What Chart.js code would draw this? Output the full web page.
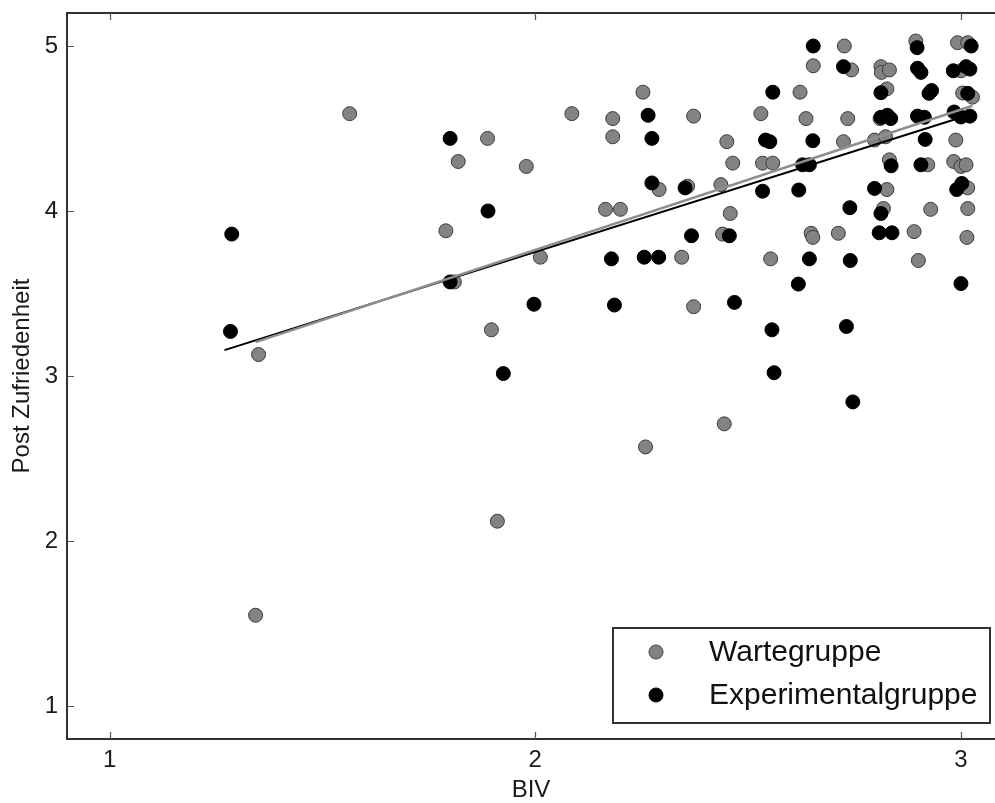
<!DOCTYPE html>
<html>
<head>
<meta charset="utf-8">
<title>BIV und Post Zufriedenheit</title>
<script src="https://cdn.jsdelivr.net/npm/chart.js@4.4.1/dist/chart.umd.min.js"></script>
<style>
  html, body { margin: 0; padding: 0; background: #ffffff; overflow: hidden; }
  #wrap { width: 995px; height: 803px; }
</style>
</head>
<body>
<div id="wrap"><canvas id="chart" width="995" height="803"></canvas></div>
<script>
// Wartegruppe: BIV (x) and Post Zufriedenheit (y)
const warteBIV = [
  1.343, 1.35, 1.564, 1.79, 1.81, 1.819, 1.888, 1.897, 1.911, 1.979,
  2.012, 2.086, 2.165, 2.182, 2.182, 2.20, 2.253, 2.259, 2.291, 2.344,
  2.358, 2.372, 2.372, 2.436, 2.44, 2.444, 2.45, 2.458, 2.464, 2.53,
  2.534, 2.553, 2.558, 2.622, 2.636, 2.648, 2.652, 2.653, 2.712, 2.724,
  2.726, 2.734, 2.743, 2.797, 2.81, 2.812, 2.813, 2.818, 2.823, 2.826,
  2.826, 2.832, 2.832, 2.89, 2.894, 2.90, 2.922, 2.929, 2.988, 2.983,
  2.992, 3.0, 3.0, 3.004, 3.012, 3.014, 3.016, 3.016, 3.016, 3.027
];
const warteZuf = [
  1.55, 3.13, 4.59, 3.88, 3.57, 4.30, 4.44, 3.28, 2.12, 4.27,
  3.72, 4.59, 4.01, 4.56, 4.45, 4.01, 4.72, 2.57, 4.13, 3.72,
  4.15, 4.575, 3.42, 4.16, 3.86, 2.71, 4.42, 3.985, 4.29, 4.59,
  4.29, 3.71, 4.29, 4.72, 4.56, 3.865, 3.84, 4.88, 3.865, 4.42,
  5.0, 4.56, 4.855, 4.43, 4.56, 4.875, 4.84, 4.015, 4.45, 4.74,
  4.13, 4.855, 4.31, 3.875, 5.03, 3.70, 4.28, 4.01, 4.43, 4.30,
  5.02, 4.85, 4.27, 4.715, 4.28, 3.84, 5.02, 4.14, 4.015, 4.69
];

// Experimentalgruppe: BIV (x) and Post Zufriedenheit (y)
const expBIV = [
  1.287, 1.284, 1.80, 1.80, 1.889, 1.925, 1.997, 2.179, 2.186, 2.256,
  2.265, 2.274, 2.274, 2.29, 2.352, 2.367, 2.456, 2.468, 2.534, 2.541,
  2.551, 2.556, 2.558, 2.561, 2.618, 2.619, 2.628, 2.644, 2.644, 2.652,
  2.653, 2.724, 2.731, 2.739, 2.74, 2.746, 2.797, 2.808, 2.812, 2.812,
  2.812, 2.827, 2.835, 2.836, 2.838, 2.897, 2.898, 2.906, 2.898, 2.914,
  2.906, 2.916, 2.925, 2.931, 2.982, 2.984, 2.99, 3.0, 3.0, 3.002,
  3.012, 3.016, 3.021, 3.021, 3.024
];
const expZuf = [
  3.86, 3.27, 4.44, 3.57, 4.00, 3.015, 3.435, 3.71, 3.43, 3.72,
  4.58, 4.44, 4.17, 3.72, 4.14, 3.85, 3.85, 3.446, 4.12, 4.43,
  4.42, 3.28, 4.72, 3.02, 3.557, 4.127, 4.28, 4.28, 3.71, 4.426,
  5.0, 4.875, 3.30, 4.02, 3.70, 2.843, 4.137, 3.868, 4.717, 4.568,
  3.985, 4.58, 4.56, 4.274, 3.868, 4.99, 4.865, 4.84, 4.575, 4.568,
  4.28, 4.434, 4.713, 4.73, 4.85, 4.60, 4.13, 3.56, 4.57, 4.167,
  4.875, 4.713, 4.86, 4.575, 5.0
];

// Regression lines (end points) for each group
const fitWarteBIV = [1.343, 3.027];
const fitWarteZuf = [3.205, 4.638];
const fitExpBIV = [1.27, 3.024];
const fitExpZuf = [3.157, 4.586];

// Axis ticks
const xTicks = [1, 2, 3];
const yTicks = [1, 2, 3, 4, 5];

const seriesNames = ['Wartegruppe', 'Experimentalgruppe'];
const axisTitles = { x: 'BIV', y: 'Post Zufriedenheit' };

const zip = (xs, ys) => xs.map((x, i) => ({ x: x, y: ys[i] }));

const GRAY = '#838383';
const GRAY_EDGE = '#3c3c3c';
const FRAME = '#333333';
const FONT = "'Liberation Sans', Arial, Helvetica, sans-serif";
const MARKER_R = 7;

// Box on left/top/bottom with inward tick marks
const framePlugin = {
  id: 'frame',
  beforeDatasetsDraw(chart) {
    const { ctx, chartArea: a, scales } = chart;
    ctx.save();
    ctx.strokeStyle = FRAME;
    ctx.lineWidth = 2;
    ctx.beginPath();
    ctx.moveTo(a.right + 2, a.top);
    ctx.lineTo(a.left, a.top);
    ctx.lineTo(a.left, a.bottom);
    ctx.lineTo(a.right + 2, a.bottom);
    ctx.stroke();
    ctx.lineWidth = 1.2;
    ctx.strokeStyle = '#555555';
    ctx.beginPath();
    xTicks.forEach(v => {
      const px = Math.round(scales.x.getPixelForValue(v)) + 0.5;
      ctx.moveTo(px, a.bottom);
      ctx.lineTo(px, a.bottom - 7);
      ctx.moveTo(px, a.top);
      ctx.lineTo(px, a.top + 7);
    });
    yTicks.forEach(v => {
      const py = Math.round(scales.y.getPixelForValue(v)) + 0.5;
      ctx.moveTo(a.left, py);
      ctx.lineTo(a.left + 7, py);
    });
    ctx.stroke();
    ctx.restore();
  }
};

// Boxed legend in the lower right corner of the plot
const legendPlugin = {
  id: 'boxLegend',
  afterDatasetsDraw(chart) {
    const { ctx, chartArea: a } = chart;
    const x0 = a.right - 382, y0 = a.bottom - 111, w = 377, h = 95;
    ctx.save();
    ctx.fillStyle = '#ffffff';
    ctx.fillRect(x0, y0, w, h);
    ctx.strokeStyle = FRAME;
    ctx.lineWidth = 2;
    ctx.strokeRect(x0, y0, w, h);
    const rows = [
      { name: seriesNames[0], fill: GRAY, edge: GRAY_EDGE, y: y0 + 24 },
      { name: seriesNames[1], fill: '#000000', edge: '#000000', y: y0 + 67 }
    ];
    ctx.font = '30px ' + FONT;
    ctx.textBaseline = 'middle';
    ctx.textAlign = 'left';
    rows.forEach(r => {
      ctx.beginPath();
      ctx.arc(x0 + 43, r.y, MARKER_R, 0, Math.PI * 2);
      ctx.fillStyle = r.fill;
      ctx.fill();
      ctx.lineWidth = 1;
      ctx.strokeStyle = r.edge;
      ctx.stroke();
      ctx.fillStyle = '#111111';
      ctx.fillText(r.name, x0 + 96, r.y + 1);
    });
    ctx.restore();
  }
};

// Keep the plot box exactly where the layout padding puts it
const noEdgePadding = s => {
  s.paddingLeft = 0;
  s.paddingRight = 0;
  s.paddingTop = 0;
  s.paddingBottom = 0;
};

new Chart(document.getElementById('chart'), {
  type: 'scatter',
  data: {
    datasets: [
      {
        type: 'line',
        label: 'Regression ' + seriesNames[0],
        data: zip(fitWarteBIV, fitWarteZuf),
        borderColor: '#8e8e8e',
        borderWidth: 2.5,
        pointRadius: 0,
        fill: false,
        order: -2
      },
      {
        type: 'line',
        label: 'Regression ' + seriesNames[1],
        data: zip(fitExpBIV, fitExpZuf),
        borderColor: '#000000',
        borderWidth: 2,
        pointRadius: 0,
        fill: false,
        order: -1
      },
      {
        label: seriesNames[0],
        data: zip(warteBIV, warteZuf),
        backgroundColor: GRAY,
        borderColor: GRAY_EDGE,
        borderWidth: 1,
        pointRadius: MARKER_R,
        order: 1
      },
      {
        label: seriesNames[1],
        data: zip(expBIV, expZuf),
        backgroundColor: '#000000',
        borderColor: '#000000',
        borderWidth: 1,
        pointRadius: MARKER_R,
        order: 0
      }
    ]
  },
  options: {
    responsive: false,
    animation: false,
    devicePixelRatio: 1,
    layout: { autoPadding: false, padding: { top: 13, right: 0, left: 0, bottom: 0 } },
    plugins: {
      legend: { display: false },
      tooltip: { enabled: false }
    },
    scales: {
      x: {
        type: 'linear',
        min: 0.9,
        max: 3.08,
        grid: { display: false, drawTicks: false },
        border: { display: false },
        afterBuildTicks: s => { s.ticks = xTicks.map(v => ({ value: v })); },
        afterFit: s => { s.height = 64; noEdgePadding(s); },
        ticks: {
          padding: 7,
          color: '#1a1a1a',
          font: { family: FONT, size: 24 },
          maxRotation: 0,
          autoSkip: false
        },
        title: {
          display: true,
          text: axisTitles.x,
          color: '#1a1a1a',
          font: { family: FONT, size: 24 },
          padding: { top: 0, bottom: -2 }
        }
      },
      y: {
        type: 'linear',
        min: 0.8,
        max: 5.2,
        grid: { display: false, drawTicks: false },
        border: { display: false },
        afterBuildTicks: s => { s.ticks = yTicks.map(v => ({ value: v })); },
        afterFit: s => { s.width = 67; noEdgePadding(s); },
        ticks: {
          padding: 9,
          color: '#1a1a1a',
          font: { family: FONT, size: 24 },
          autoSkip: false
        },
        title: {
          display: true,
          text: axisTitles.y,
          color: '#1a1a1a',
          font: { family: FONT, size: 24 },
          padding: { top: 8, bottom: 0 }
        }
      }
    }
  },
  plugins: [framePlugin, legendPlugin]
});
</script>
</body>
</html>
